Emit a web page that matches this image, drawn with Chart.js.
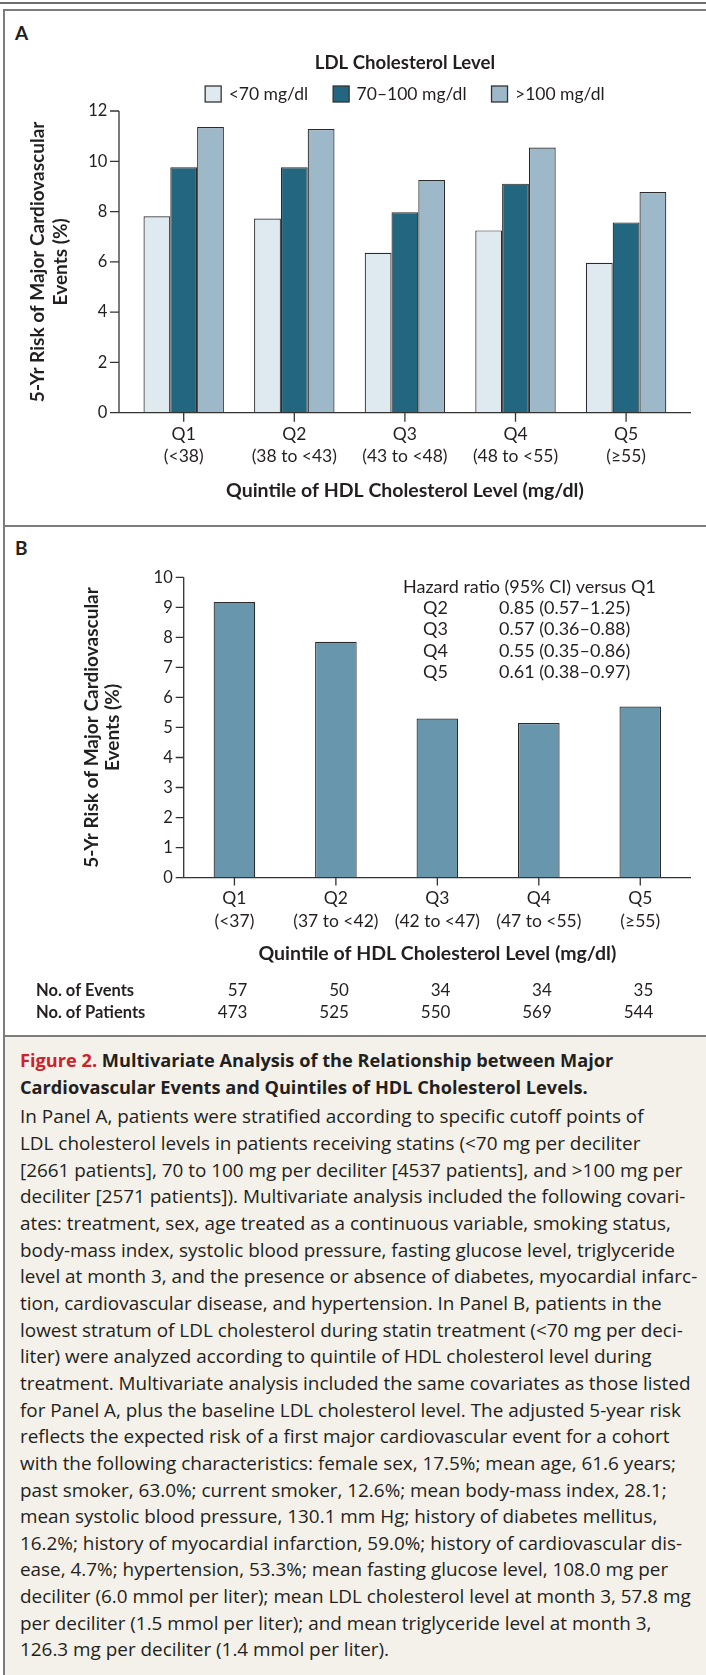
<!DOCTYPE html>
<html>
<head>
<meta charset="utf-8">
<script src="https://cdn.jsdelivr.net/npm/chart.js@4.4.1/dist/chart.umd.min.js"></script>
<style>
  html, body { margin: 0; padding: 0; background: #fff; }
  body { width: 706px; height: 1675px; position: relative; overflow: hidden; font-family: Lato, 'Open Sans', sans-serif; color: #231f20; }
  .topline { position: absolute; left: 0; top: 2px; width: 706px; height: 2px; background: #6e6e6e; }
  .frame { position: absolute; left: 3px; width: 720px; border: 2px solid #7c7c7c; border-right: none; border-bottom: none; box-sizing: border-box; }
  #fA { top: 9px; height: 518px; }
  #fB { top: 525px; height: 512px; }
  #fC { top: 1035px; height: 640px; background: #f4f1ea; }
  .tag { position: absolute; left: 15px; font-weight: bold; font-size: 19px; line-height: 20px; }
  canvas { position: absolute; left: 0; }
  #cap { position: absolute; left: 20px; top: 1047px; width: 690px; font-family: 'Open Sans', Lato, sans-serif; font-size: 18.9px; line-height: 26.65px; white-space: nowrap; }
  #cap .t { font-weight: bold; font-size: 18.2px; }
  #cap .red { color: #cc2229; }
  #cap .b { margin-top: 3px; }
</style>
</head>
<body>
<div class="topline"></div>
<div class="frame" id="fA"></div>
<div class="frame" id="fB"></div>
<div class="frame" id="fC"></div>
<div class="tag" style="top:23px">A</div>
<div class="tag" style="top:538px">B</div>
<canvas id="cA" width="706" height="530" style="top:0"></canvas>
<canvas id="cB" width="706" height="510" style="top:526px"></canvas>
<div id="cap">
<div class="t"><span class="red">Figure 2.</span> Multivariate Analysis of the Relationship between Major<br>Cardiovascular Events and Quintiles of HDL Cholesterol Levels.</div>
<div class="b">In Panel A, patients were stratified according to specific cutoff points of<br>LDL cholesterol levels in patients receiving statins (&lt;70 mg per deciliter<br>[2661 patients], 70 to 100 mg per deciliter [4537 patients], and &gt;100 mg per<br>deciliter [2571 patients]). Multivariate analysis included the following covari-<br>ates: treatment, sex, age treated as a continuous variable, smoking status,<br>body-mass index, systolic blood pressure, fasting glucose level, triglyceride<br>level at month 3, and the presence or absence of diabetes, myocardial infarc-<br>tion, cardiovascular disease, and hypertension. In Panel B, patients in the<br>lowest stratum of LDL cholesterol during statin treatment (&lt;70 mg per deci-<br>liter) were analyzed according to quintile of HDL cholesterol level during<br>treatment. Multivariate analysis included the same covariates as those listed<br>for Panel A, plus the baseline LDL cholesterol level. The adjusted 5-year risk<br>reflects the expected risk of a first major cardiovascular event for a cohort<br>with the following characteristics: female sex, 17.5%; mean age, 61.6 years;<br>past smoker, 63.0%; current smoker, 12.6%; mean body-mass index, 28.1;<br>mean systolic blood pressure, 130.1 mm Hg; history of diabetes mellitus,<br>16.2%; history of myocardial infarction, 59.0%; history of cardiovascular dis-<br>ease, 4.7%; hypertension, 53.3%; mean fasting glucose level, 108.0 mg per<br>deciliter (6.0 mmol per liter); mean LDL cholesterol level at month 3, 57.8 mg<br>per deciliter (1.5 mmol per liter); and mean triglyceride level at month 3,<br>126.3 mg per deciliter (1.4 mmol per liter).</div>
</div>
<script>
// 図2：HDL五分位ごとの5年主要心血管イベントリスク（A: LDL層別, B: LDL<70のみ）
const FONT = "Lato, 'Open Sans', sans-serif";
const TEXT = '#231f20';

const quintilesA = [['Q1', '(<38)'], ['Q2', '(38 to <43)'], ['Q3', '(43 to <48)'], ['Q4', '(48 to <55)'], ['Q5', '(≥55)']];
const ldlLabels = ['<70 mg/dl', '70–100 mg/dl', '>100 mg/dl'];
const riskLdlLow = [7.81, 7.72, 6.36, 7.25, 5.96];
const riskLdlMid = [9.76, 9.76, 7.97, 9.11, 7.57];
const riskLdlHigh = [11.36, 11.28, 9.26, 10.55, 8.78];

const quintilesB = [['Q1', '(<37)'], ['Q2', '(37 to <42)'], ['Q3', '(42 to <47)'], ['Q4', '(47 to <55)'], ['Q5', '(≥55)']];
const riskB = [9.18, 7.85, 5.30, 5.15, 5.70];
const nEvents = [57, 50, 34, 34, 35];
const nPatients = [473, 525, 550, 569, 544];
const hrTitle = 'Hazard ratio (95% CI) versus Q1';
const hrQuintiles = ['Q2', 'Q3', 'Q4', 'Q5'];
const hrValues = ['0.85 (0.57–1.25)', '0.57 (0.36–0.88)', '0.55 (0.35–0.86)', '0.61 (0.38–0.97)'];

const xTitle = 'Quintile of HDL Cholesterol Level (mg/dl)';
const yTitle = ['5-Yr Risk of Major Cardiovascular', 'Events (%)'];

Chart.defaults.font.family = FONT;
Chart.defaults.color = TEXT;

// 軸線と目盛りは自前で描く（Aは軸が棒の範囲より少し外へ伸びている）
const axisLines = {
  id: 'axisLines',
  afterDraw(chart, args, o) {
    const { ctx, chartArea: a, scales: { x, y } } = chart;
    const l = a.left - o.extL, r = a.right + o.extR;
    ctx.save();
    ctx.strokeStyle = '#333'; ctx.lineWidth = 1.3;
    ctx.beginPath();
    ctx.moveTo(l, y.getPixelForValue(y.max)); ctx.lineTo(l, a.bottom); ctx.lineTo(r, a.bottom);
    y.ticks.forEach(t => { const py = y.getPixelForValue(t.value); ctx.moveTo(l - o.tick, py); ctx.lineTo(l, py); });
    x.ticks.forEach((t, i) => { const px = x.getPixelForValue(i); ctx.moveTo(px, a.bottom); ctx.lineTo(px, a.bottom + o.tick); });
    ctx.stroke();
    ctx.restore();
  }
};

const ldlLegend = {
  id: 'ldlLegend',
  afterDraw(chart) {
    const { ctx, chartArea: a } = chart;
    const cx = (a.left + a.right) / 2;
    ctx.save();
    ctx.textBaseline = 'middle'; ctx.textAlign = 'center'; ctx.fillStyle = TEXT;
    ctx.font = `bold 18.6px ${FONT}`;
    ctx.fillText('LDL Cholesterol Level', cx, 63);
    ctx.font = `17.5px ${FONT}`;
    const box = 16, gapT = 7.5, gapI = 25;
    const ds = chart.data.datasets;
    const ws = ds.map(d => ctx.measureText(d.label).width);
    const total = ws.reduce((s, w) => s + box + gapT + w, 0) + gapI * (ws.length - 1);
    let px = cx - total / 2;
    ctx.textAlign = 'left';
    ds.forEach((d, i) => {
      ctx.fillStyle = d.backgroundColor; ctx.fillRect(px, 86, box, box);
      ctx.strokeStyle = '#333'; ctx.lineWidth = 1.3; ctx.strokeRect(px, 86, box, box);
      ctx.fillStyle = TEXT; ctx.fillText(d.label, px + box + gapT, 94);
      px += box + gapT + ws[i] + gapI;
    });
    ctx.restore();
  }
};

const tableB = {
  id: 'tableB',
  afterDraw(chart) {
    const { ctx, scales: { x } } = chart;
    ctx.save();
    ctx.textBaseline = 'middle'; ctx.fillStyle = TEXT;
    ctx.font = `18px ${FONT}`;
    ctx.textAlign = 'left';
    ctx.fillText(hrTitle, 403, 61);
    hrQuintiles.forEach((q, i) => {
      ctx.fillText(q, 423, 82.5 + i * 21.1);
      ctx.fillText(hrValues[i], 499, 82.5 + i * 21.1);
    });
    ctx.font = `bold 16.5px ${FONT}`;
    ctx.fillText('No. of Events', 36, 464.5);
    ctx.fillText('No. of Patients', 36, 486.6);
    ctx.font = `17px ${FONT}`;
    ctx.textAlign = 'right';
    nEvents.forEach((v, i) => {
      const px = x.getPixelForValue(i) + 13;
      ctx.fillText(String(v), px, 464.5);
      ctx.fillText(String(nPatients[i]), px, 486.6);
    });
    ctx.restore();
  }
};

const hide = { display: false, drawTicks: false, tickLength: 0 };

new Chart(document.getElementById('cA'), {
  type: 'bar',
  data: {
    labels: quintilesA,
    datasets: [
      { label: ldlLabels[0], data: riskLdlLow, backgroundColor: '#dfeaf0' },
      { label: ldlLabels[1], data: riskLdlMid, backgroundColor: '#22677f' },
      { label: ldlLabels[2], data: riskLdlHigh, backgroundColor: '#9db8c9' },
    ],
  },
  options: {
    responsive: false, animation: false,
    layout: { padding: { top: 111, right: 24.6, bottom: 17.3, left: 0 } },
    datasets: { bar: { categoryPercentage: 0.727, barPercentage: 1, borderColor: '#2b2b2b', borderWidth: 1.2 } },
    plugins: { legend: { display: false }, tooltip: { enabled: false }, axisLines: { extL: 9.4, extR: 9.6, tick: 9 } },
    scales: {
      x: {
        grid: hide, border: { display: false },
        ticks: { padding: 11, font: { size: 17.5, lineHeight: 1.26 }, maxRotation: 0, autoSkip: false },
        title: { display: true, text: xTitle, font: { size: 19.5, weight: 'bold', lineHeight: 1.15 }, padding: { top: 0, bottom: 11 } },
        afterFit: s => { s.height = 100; },
      },
      y: {
        min: 0, max: 12,
        grid: hide, border: { display: false },
        ticks: { stepSize: 2, padding: 21, font: { size: 16.5 } },
        title: { display: true, text: yTitle, font: { size: 19, weight: 'bold', lineHeight: 1.18 }, padding: { top: 27, bottom: 0 } },
        afterFit: s => { s.width = 128.4; },
      },
    },
  },
  plugins: [axisLines, ldlLegend],
});

new Chart(document.getElementById('cB'), {
  type: 'bar',
  data: {
    labels: quintilesB,
    datasets: [{ label: 'LDL <70 mg/dl', data: riskB, backgroundColor: '#6896ad' }],
  },
  options: {
    responsive: false, animation: false,
    layout: { padding: { top: 51.3, right: 15, bottom: 58.4, left: 0 } },
    datasets: { bar: { categoryPercentage: 1, barPercentage: 0.41, borderColor: '#2b2b2b', borderWidth: 1.2 } },
    plugins: { legend: { display: false }, tooltip: { enabled: false }, axisLines: { extL: 0, extR: 0, tick: 8 } },
    scales: {
      x: {
        grid: hide, border: { display: false },
        ticks: { padding: 9.4, font: { size: 17.5, lineHeight: 1.3 }, maxRotation: 0, autoSkip: false },
        title: { display: true, text: xTitle, font: { size: 19.5, weight: 'bold', lineHeight: 1.15 }, padding: { top: 0, bottom: 12.3 } },
        afterFit: s => { s.height = 100; },
      },
      y: {
        min: 0, max: 10,
        grid: hide, border: { display: false },
        ticks: { stepSize: 1, padding: 11, font: { size: 16.5 } },
        title: { display: true, text: yTitle, font: { size: 19, weight: 'bold', lineHeight: 1.1 }, padding: { top: 81.9, bottom: 0 } },
        afterFit: s => { s.width = 183.7; },
      },
    },
  },
  plugins: [axisLines, tableB],
});
</script>
</body>
</html>
